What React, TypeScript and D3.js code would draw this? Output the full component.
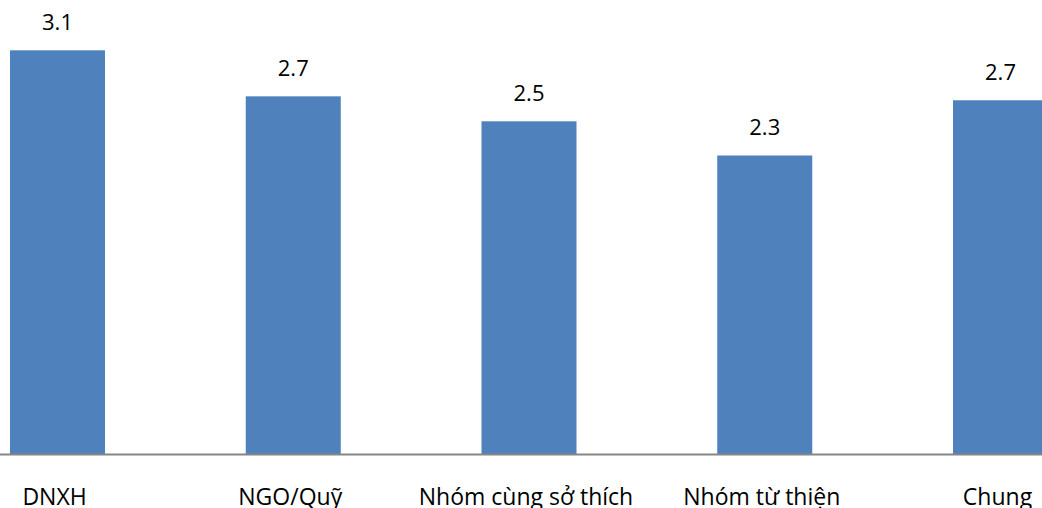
import React from "react";
import * as d3 from "d3";

// Mean scores per organisation type
const categories: string[] = ["DNXH", "NGO/Quỹ", "Nhóm cùng sở thích", "Nhóm từ thiện", "Chung"];
const values: number[] = [3.07, 2.72, 2.53, 2.27, 2.69];

const WIDTH = 1042;
const HEIGHT = 508;
const BASELINE = 454;
const BAR_COLOR = "#4F81BD";
const FONT = "'Open Sans', 'DejaVu Sans', sans-serif";

export default function App() {
  const x = d3
    .scaleBand<string>()
    .domain(categories)
    .range([-60.375, 1118.375])
    .paddingInner(0)
    .paddingOuter(0);

  const y = d3.scaleLinear().domain([0, 3.5]).range([BASELINE, BASELINE - 3.5 * 131.5]);

  const barW = x.bandwidth() * 0.403;
  const fmt = d3.format(".1f");

  return (
    <svg
      width={WIDTH}
      height={HEIGHT}
      style={{ position: "absolute", left: 0, top: 0, background: "#fff" }}
      fontFamily={FONT}
    >
      {categories.map((c, i) => {
        const cx = (x(c) ?? 0) + x.bandwidth() / 2;
        const v = values[i];
        return (
          <g key={c}>
            <rect
              x={cx - barW / 2}
              y={y(v)}
              width={barW}
              height={y(0) - y(v)}
              fill={BAR_COLOR}
            />
            <text
              x={cx}
              y={y(v) - 20}
              textAnchor="middle"
              fontSize={22}
              fill="#000"
            >
              {fmt(v)}
            </text>
            <text x={cx - 3} y={505} textAnchor="middle" fontSize={23} fill="#000">
              {c}
            </text>
          </g>
        );
      })}
      <line x1={0} x2={WIDTH} y1={BASELINE + 0.5} y2={BASELINE + 0.5} stroke="#868686" strokeWidth={2} />
    </svg>
  );
}
